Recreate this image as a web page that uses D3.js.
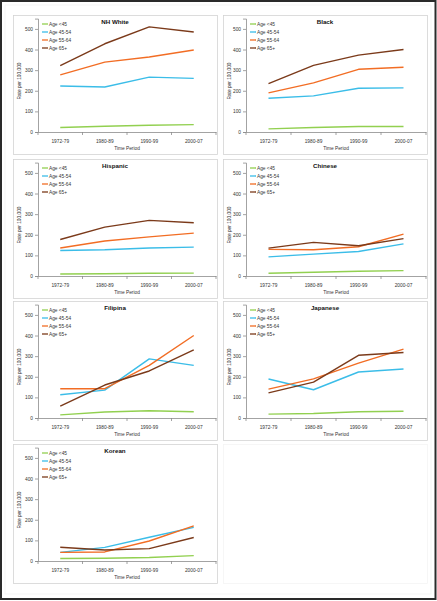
<!DOCTYPE html>
<html><head><meta charset="utf-8">
<script src="https://cdnjs.cloudflare.com/ajax/libs/d3/7.8.5/d3.min.js"></script>
<style>html,body{margin:0;padding:0;background:#fff;}svg{display:block;font-family:"Liberation Sans",Arial,sans-serif;}</style>
</head><body><div id="chart"></div>
<script>
const categories = ["1972-79","1980-89","1990-99","2000-07"];
const seriesNames = ["Age <45","Age 45-54","Age 55-64","Age 65+"];
const seriesColors = ["#92D050","#3BBDE8","#F26D24","#7B3A1A"];
const yTicks = [0,100,200,300,400,500];
const panelTitles = ["NH White","Black","Hispanic","Chinese","Filipina","Japanese","Korean"];

const nhWhite  = [[22,28,33,36],[223,218,266,260],[277,339,364,398],[322,428,510,485]];
const black    = [[15,22,27,27],[164,175,212,214],[190,238,304,314],[235,323,373,400]];
const hispanic = [[10,11,13,14],[124,127,136,140],[136,170,190,208],[177,237,270,258]];
const chinese  = [[13,18,23,26],[93,106,119,156],[129,127,142,203],[135,163,147,181]];
const filipina = [[15,29,35,30],[113,135,287,255],[142,142,255,400],[58,160,228,330]];
const japanese = [[19,22,30,33],[189,137,223,238],[140,190,266,334],[122,174,304,318]];
const korean   = [[12,13,17,26],[42,66,115,163],[42,44,97,170],[67,53,60,114]];
const panelData = [nhWhite, black, hispanic, chinese, filipina, japanese, korean];

const W = 437, H = 601;
const svg = d3.select("#chart").append("svg").attr("width", W).attr("height", H);
svg.append("rect").attr("width",W).attr("height",H).attr("fill","#fff");
svg.append("rect").attr("x",5).attr("y",5).attr("width",426).attr("height",589)
  .attr("fill","none").attr("stroke","#f2f2f2").attr("stroke-width",0.8);
svg.append("rect").attr("x",1).attr("y",1).attr("width",434.5).attr("height",598)
  .attr("fill","none").attr("stroke","#2a2a2a").attr("stroke-width",2);

const colX = [13, 223], rowY = [15, 159, 301, 444];
const boxW = 204, boxH = 139;
const axisOff = [25, 23];

// faint empty eighth box
svg.append("rect").attr("x",colX[1]+0.5).attr("y",rowY[3]+0.5).attr("width",boxW).attr("height",boxH)
  .attr("fill","none").attr("stroke","#f3f3f3").attr("stroke-width",0.7);

panelTitles.forEach((title, i) => {
  const col = i % 2, row = Math.floor(i / 2);
  const x0 = colX[col], y0 = rowY[row];
  const g = svg.append("g");
  g.append("rect").attr("x",x0+0.5).attr("y",y0+0.5).attr("width",boxW).attr("height",boxH)
    .attr("fill","#fff").attr("stroke","#d4d4d4").attr("stroke-width",0.8);

  const left = x0 + axisOff[col], right = x0 + boxW - 1;
  const x = d3.scaleBand().domain(categories).range([left, right]);
  const y = d3.scaleLinear().domain([0, 550]).range([y0 + 117, y0 + 3.6]);

  const ya = g.append("g").attr("transform",`translate(${left},0)`)
    .call(d3.axisLeft(y).tickValues(yTicks).tickSize(3).tickPadding(2).tickFormat(d3.format("d")));
  ya.select(".domain").attr("stroke","#8c8c8c").attr("stroke-width",0.8);
  ya.selectAll(".tick line").attr("stroke","#8c8c8c").attr("stroke-width",0.8);
  ya.selectAll("text").attr("font-size","4.8px").attr("fill","#333").attr("font-family","Liberation Sans, Arial, sans-serif");

  const xa = g.append("g").attr("transform",`translate(0,${y(0)})`)
    .call(d3.axisBottom(x).tickSize(0).tickPadding(8));
  xa.select(".domain").attr("stroke","#8c8c8c").attr("stroke-width",0.8);
  xa.selectAll("text").attr("font-size","4.8px").attr("fill","#333").attr("font-family","Liberation Sans, Arial, sans-serif");
  g.selectAll(".xb").data(categories.concat(["end"])).enter().append("line")
    .attr("x1",(d,k)=> left + k * x.step()).attr("x2",(d,k)=> left + k * x.step())
    .attr("y1", y(0)).attr("y2", y(0) + 3).attr("stroke","#8c8c8c").attr("stroke-width",0.8);

  g.append("text").attr("x", x0 + boxW/2).attr("y", y0 + 8.5).attr("text-anchor","middle")
    .attr("font-size","6.2px").attr("font-weight","bold").attr("fill","#111").text(title);
  g.append("text").attr("x", (left+right)/2).attr("y", y0 + 135).attr("text-anchor","middle")
    .attr("font-size","4.8px").attr("fill","#333").text("Time Period");
  g.append("text").attr("transform",`translate(${x0 + 7.5},${y0 + 66}) rotate(-90)`).attr("text-anchor","middle")
    .attr("font-size","4.8px").attr("fill","#333").text("Rate per 100,000");

  const line = d3.line().x((d,k)=> x(categories[k]) + x.bandwidth()/2).y(d => y(d));
  panelData[i].forEach((vals, s) => {
    g.append("path").datum(vals).attr("d", line).attr("fill","none")
      .attr("stroke", seriesColors[s]).attr("stroke-width",1.4).attr("stroke-linejoin","round");
  });

  seriesNames.forEach((name, s) => {
    const ly = y0 + 9 + s * 8;
    g.append("line").attr("x1", left + 4).attr("x2", left + 10).attr("y1", ly).attr("y2", ly)
      .attr("stroke", seriesColors[s]).attr("stroke-width",1.3);
    g.append("text").attr("x", left + 11).attr("y", ly + 1.7).attr("font-size","4.8px").attr("fill","#333").text(name);
  });
});
</script></body></html>
